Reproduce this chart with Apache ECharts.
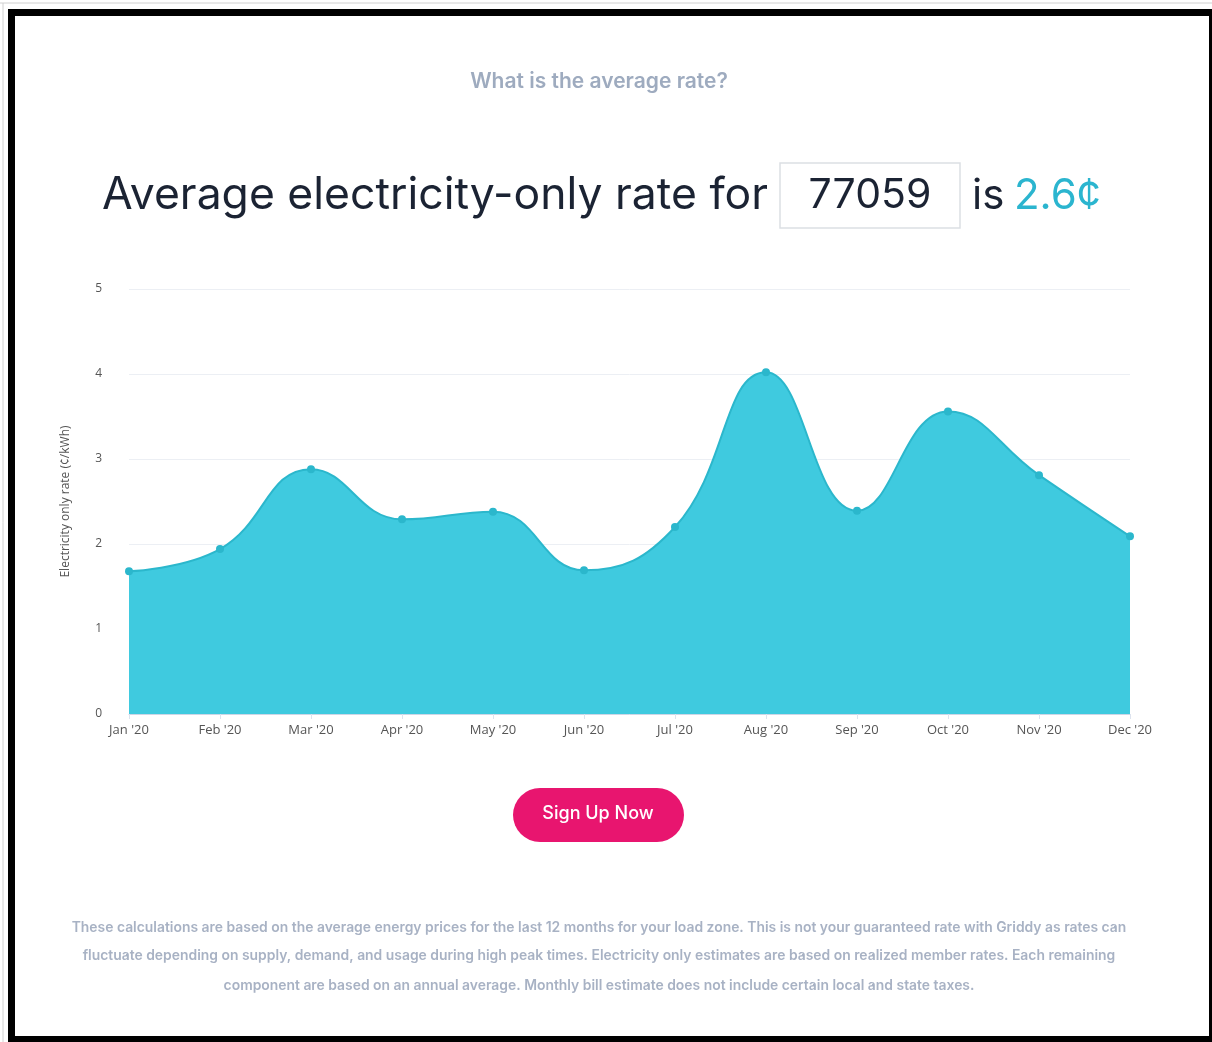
<!DOCTYPE html>
<html>
<head>
<meta charset="utf-8">
<title>Average electricity-only rate</title>
<script src="https://cdn.jsdelivr.net/npm/echarts@6/dist/echarts.min.js"></script>
<style>
  html, body { margin: 0; padding: 0; background: #fff; }
  #main { width: 1212px; height: 1042px; }
</style>
</head>
<body>
<div id="main"></div>
<script>
// months shown on the x axis
const months = ["Jan '20", "Feb '20", "Mar '20", "Apr '20", "May '20", "Jun '20",
  "Jul '20", "Aug '20", "Sep '20", "Oct '20", "Nov '20", "Dec '20"];
// electricity only rate, cents per kWh
const rates = [1.68, 1.94, 2.88, 2.29, 2.38, 1.69, 2.2, 4.02, 2.39, 3.56, 2.81, 2.09];
const yTicks = [0, 1, 2, 3, 4, 5];
const zipCode = '77059';
const avgRate = '2.6¢';
const noteLines = [
  'These calculations are based on the average energy prices for the last 12 months for your load zone. This is not your guaranteed rate with Griddy as rates can',
  'fluctuate depending on supply, demand, and usage during high peak times. Electricity only estimates are based on realized member rates. Each remaining',
  'component are based on an annual average. Monthly bill estimate does not include certain local and state taxes.'
];

const headFont = 'Inter, "Open Sans", sans-serif';
const axisFont = '"Open Sans", "DejaVu Sans", sans-serif';

const chart = echarts.init(document.getElementById('main'));

const option = {
  backgroundColor: '#ffffff',
  animation: false,
  grid: { left: 129, right: 82, top: 289, bottom: 328 },
  xAxis: {
    type: 'category',
    data: months,
    boundaryGap: false,
    axisLine: { lineStyle: { color: '#cdd6e6', width: 1 } },
    axisTick: { show: true, length: 5, lineStyle: { color: '#dde3ee' } },
    axisLabel: { color: '#555', fontFamily: axisFont, fontSize: 13, margin: 10 }
  },
  yAxis: {
    type: 'value',
    min: yTicks[0],
    max: yTicks[yTicks.length - 1],
    interval: 1,
    name: 'Electricity only rate (¢/kWh)',
    nameLocation: 'middle',
    nameGap: 57,
    nameTextStyle: { color: '#555', fontFamily: axisFont, fontSize: 12 },
    axisLine: { show: false },
    axisTick: { show: false },
    axisLabel: { color: '#555', fontFamily: axisFont, fontSize: 12, margin: 27 },
    splitLine: { lineStyle: { color: '#eceff4', width: 1 } }
  },
  series: [{
    type: 'line',
    data: rates,
    smooth: 0.45,
    symbol: 'circle',
    symbolSize: 8,
    itemStyle: { color: '#2bb7cc' },
    lineStyle: { color: '#2bb7cc', width: 2 },
    areaStyle: { color: '#3fcadf', opacity: 1 }
  }],
  graphic: [
    // page frame
    { type: 'rect', shape: { x: 8, y: 9, width: 1204, height: 1033 }, style: { fill: '#000' }, z: -10 },
    { type: 'rect', shape: { x: 15, y: 16, width: 1194, height: 1020 }, style: { fill: '#fff' }, z: -9 },
    { type: 'line', shape: { x1: 0, y1: 3, x2: 1212, y2: 3 }, style: { stroke: '#d0d0d0', lineWidth: 1 }, z: -10 },
    { type: 'line', shape: { x1: 3, y1: 3, x2: 3, y2: 1042 }, style: { stroke: '#d0d0d0', lineWidth: 1 }, z: -10 },
    // headings
    { type: 'text', x: 599, y: 82, style: { text: 'What is the average rate?', fill: '#9eabbf', font: '600 21px ' + headFont, textAlign: 'center', textVerticalAlign: 'middle' } },
    { type: 'text', x: 768, y: 196, style: { text: 'Average electricity-only rate for', fill: '#1b2333', font: '44.5px ' + headFont, textAlign: 'right', textVerticalAlign: 'middle' } },
    { type: 'rect', shape: { x: 780, y: 163, width: 180, height: 65 }, style: { fill: '#fff', stroke: '#dcdfe4', lineWidth: 1.5 } },
    { type: 'text', x: 870, y: 196, style: { text: zipCode, fill: '#1b2333', font: '41px ' + headFont, textAlign: 'center', textVerticalAlign: 'middle' } },
    { type: 'text', x: 972, y: 196, style: { text: 'is', fill: '#1b2333', font: '42px ' + headFont, textAlign: 'left', textVerticalAlign: 'middle' } },
    { type: 'text', x: 1014, y: 196, style: { text: avgRate, fill: '#2bb5cf', font: '42px ' + headFont, textAlign: 'left', textVerticalAlign: 'middle' } },
    // button
    { type: 'rect', shape: { x: 513, y: 788, width: 171, height: 54, r: 27 }, style: { fill: '#e8156f' } },
    { type: 'text', x: 598, y: 814, style: { text: 'Sign Up Now', fill: '#fff', font: '500 18px ' + headFont, textAlign: 'center', textVerticalAlign: 'middle' } },
    // footnote
    { type: 'text', x: 599, y: 928, style: { text: noteLines[0], fill: '#a8b2c4', font: '600 13.9px ' + headFont, textAlign: 'center', textVerticalAlign: 'middle' } },
    { type: 'text', x: 599, y: 956, style: { text: noteLines[1], fill: '#a8b2c4', font: '600 13.9px ' + headFont, textAlign: 'center', textVerticalAlign: 'middle' } },
    { type: 'text', x: 599, y: 986, style: { text: noteLines[2], fill: '#a8b2c4', font: '600 13.9px ' + headFont, textAlign: 'center', textVerticalAlign: 'middle' } }
  ]
};

chart.setOption(option);
</script>
</body>
</html>
